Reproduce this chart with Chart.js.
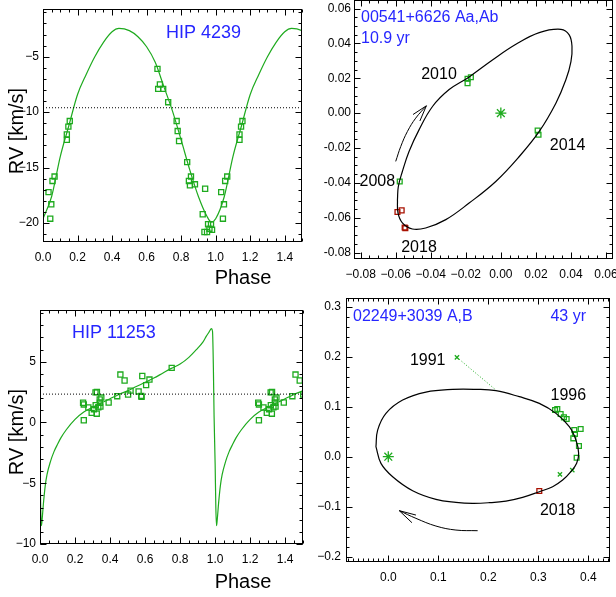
<!DOCTYPE html>
<html>
<head>
<meta charset="utf-8">
<script src="https://cdn.jsdelivr.net/npm/chart.js@4.4.1/dist/chart.umd.min.js"></script>
<style>
  html, body { margin: 0; padding: 0; background: #fff; overflow: hidden; width: 616px; height: 597px; }
  canvas { position: absolute; }
</style>
</head>
<body>
<canvas id="rv4239" width="308" height="300" style="left:0;top:0"></canvas>
<canvas id="orb00541" width="320" height="308" style="left:310px;top:-8px"></canvas>
<canvas id="rv11253" width="308" height="297" style="left:0;top:300px"></canvas>
<canvas id="orb02249" width="320" height="307" style="left:310px;top:290px"></canvas>
<script>
// ---- HIP 4239 radial velocity
const hip4239CurvePhase = [0, 0.05, 0.10, 0.15, 0.20, 0.25, 0.30, 0.35, 0.40, 0.44, 0.50, 0.55, 0.60, 0.65, 0.70, 0.75, 0.80, 0.85, 0.90, 0.95, 0.975, 1.0]
const hip4239CurveRV = [-19.6, -17.6, -14.0, -11.2, -8.4, -6.6, -5.0, -3.7, -2.75, -2.45, -2.65, -3.2, -4.1, -5.5, -7.7, -9.9, -12.5, -15.2, -17.6, -19.4, -19.9, -19.6]
const hip4239Phase = [0.032, 0.042, 0.048, 0.055, 0.067, 0.138, 0.138, 0.147, 0.155, 0.663, 0.667, 0.677, 0.696, 0.725, 0.774, 0.780, 0.788, 0.835, 0.845, 0.851, 0.857, 0.880, 0.939, 0.925, 0.935, 0.950, 0.956, 0.964, 0.973, 0.979]
const hip4239RV = [-17.2, -19.6, -18.3, -16.2, -15.8, -12.5, -12.0, -11.3, -10.8, -6.1, -7.9, -7.5, -7.9, -9.1, -10.8, -11.7, -12.6, -14.5, -16.2, -16.6, -15.8, -16.5, -16.9, -19.2, -20.8, -20.8, -20.1, -20.5, -20.1, -20.6]
const hip4239Gamma = -9.6
const hip4239XTicks = [0, 0.2, 0.4, 0.6, 0.8, 1.0, 1.2, 1.4]
const hip4239YTicks = [-20, -15, -10, -5]

// ---- HIP 11253 radial velocity
const hip11253CurvePhase = [0, 0.004, 0.008, 0.012, 0.02, 0.03, 0.04, 0.06, 0.08, 0.10, 0.12, 0.15, 0.20, 0.25, 0.30, 0.35, 0.40, 0.45, 0.50, 0.55, 0.60, 0.65, 0.70, 0.75, 0.80, 0.85, 0.90, 0.93, 0.95, 0.966, 0.979, 0.985, 0.99, 0.994, 1.0]
const hip11253CurveRV = [-3.4, -7.0, -8.5, -8.0, -6.6, -5.2, -4.3, -3.2, -2.4, -1.8, -1.25, -0.6, 0.25, 0.85, 1.25, 1.6, 1.95, 2.3, 2.6, 2.95, 3.3, 3.65, 4.05, 4.45, 4.8, 5.35, 6.1, 6.6, 7.1, 7.45, 7.72, 7.5, 4.5, 0.5, -3.4]
const hip11253Phase = [0.246, 0.25, 0.25, 0.276, 0.295, 0.308, 0.317, 0.325, 0.324, 0.318, 0.333, 0.341, 0.342, 0.345, 0.35, 0.392, 0.441, 0.459, 0.483, 0.503, 0.517, 0.563, 0.578, 0.58, 0.584, 0.606, 0.625, 0.752]
const hip11253RV = [1.62, 1.48, 0.18, 1.23, 0.79, 1.09, 2.47, 2.5, 0.72, 1.42, 1.25, 1.9, 1.62, 1.31, 2.05, 1.64, 2.16, 3.94, 3.45, 2.3, 2.62, 2.55, 2.18, 2.1, 3.82, 3.07, 3.53, 4.49]
const hip11253Gamma = 2.33
const hip11253YTicks = [-10, -5, 0, 5]

// ---- 00541+6626 Aa,Ab orbit (arcsec)
const orb00541X = [-0.059, -0.0585, -0.0562, -0.0524, -0.0467, -0.039, -0.0295, -0.0185, -0.0048, 0.0086, 0.0219, 0.0343, 0.039, 0.0406, 0.040, 0.0371, 0.0314, 0.0219, 0.0105, -0.0029, -0.0181, -0.0314, -0.0429, -0.0505, -0.0562, -0.0587, -0.059]
const orb00541Y = [-0.0497, -0.0421, -0.0335, -0.022, -0.0096, 0.0038, 0.0135, 0.0205, 0.0305, 0.0395, 0.0462, 0.0481, 0.0449, 0.0382, 0.0296, 0.0191, 0.0057, -0.0105, -0.0249, -0.0392, -0.0516, -0.0611, -0.0659, -0.0665, -0.063, -0.0573, -0.0497]
const obs00541X = [-0.019, -0.019, -0.0171, 0.021, 0.0215, -0.0577]
const obs00541Y = [0.0197, 0.0172, 0.0206, -0.010, -0.0124, -0.0392]
const new00541X = [-0.059, -0.0566, -0.0549, -0.0545]
const new00541Y = [-0.0567, -0.0558, -0.0656, -0.066]
const arrow00541X = [-0.060, -0.0571, -0.0533, -0.0486, -0.0425]
const arrow00541Y = [-0.0277, -0.0191, -0.0105, -0.0029, 0.0042]
const head00541X = [-0.0501, -0.0425, -0.0462]
const head00541Y = [-0.0008, 0.0042, -0.0045]
const orb00541XTicks = [-0.08, -0.06, -0.04, -0.02, 0, 0.02, 0.04, 0.06]
const orb00541YTicks = [-0.08, -0.06, -0.04, -0.02, 0, 0.02, 0.04, 0.06]

// ---- 02249+3039 A,B orbit (arcsec)
const orb02249X = [-0.0247, -0.0213, -0.0047, 0.0287, 0.0753, 0.1287, 0.1753, 0.2153, 0.262, 0.302, 0.3353, 0.362, 0.3753, 0.3807, 0.3767, 0.3653, 0.3487, 0.3287, 0.302, 0.2687, 0.2353, 0.202, 0.1687, 0.1353, 0.0953, 0.0487, 0.0087, -0.0147, -0.0247]
const orb02249Y = [0.02, 0.0533, 0.0867, 0.1133, 0.1293, 0.1347, 0.1347, 0.132, 0.12, 0.1067, 0.0867, 0.06, 0.0333, 0.0067, -0.0133, -0.03, -0.0467, -0.06, -0.07, -0.0813, -0.0887, -0.092, -0.0933, -0.0913, -0.0853, -0.068, -0.04, -0.0133, 0.02]
const obs02249X = [0.3335, 0.338, 0.3447, 0.3513, 0.3567, 0.372, 0.3733, 0.3847, 0.37, 0.3813, 0.3767]
const obs02249Y = [0.0933, 0.0953, 0.0853, 0.0787, 0.0753, 0.0533, 0.0453, 0.0553, 0.0367, 0.0213, -0.002]
const old02249X = [0.3433, 0.368, 0.1373]
const old02249Y = [-0.0353, -0.0267, 0.1987]
const new02249X = [0.302]
const new02249Y = [-0.0687]
const resid02249X = [0.1373, 0.2153]
const resid02249Y = [0.1987, 0.1333]
const arrow02249X = [0.1787, 0.1353, 0.0953, 0.0553, 0.022]
const arrow02249Y = [-0.148, -0.1467, -0.1387, -0.1233, -0.108]
const head02249X = [0.0553, 0.022, 0.0473]
const head02249Y = [-0.1167, -0.108, -0.132]
const orb02249XTicks = [0, 0.1, 0.2, 0.3, 0.4]
const orb02249YTicks = [-0.2, -0.1, 0, 0.1, 0.2, 0.3]

const GREEN = '#1eaa1e'
const BLUE = '#2626ff'
const RED = '#a81000'
const FONT = '"Liberation Sans", Arial, Helvetica, sans-serif'
const MINUS = '\u2212'

const pts = (xs, ys) => xs.map((x, i) => ({ x, y: ys[i] }))
const twoCycles = (ph, v) => pts(ph.concat(ph.slice(1).map(p => p + 1)), v.concat(v.slice(1)))

function line(data, color, extra = {}) {
  return { data, showLine: true, borderColor: color, borderWidth: 1.2, pointRadius: 0, fill: false, ...extra }
}

function marks(data, color, style, r) {
  return {
    data, showLine: false, pointStyle: style, pointRadius: r,
    borderColor: color, pointBorderColor: color, pointBackgroundColor: 'rgba(0,0,0,0)',
    borderWidth: 1.3, pointBorderWidth: 1.3,
  }
}

function axis(min, max, ticks, fmt, size, pad) {
  return {
    type: 'linear', min, max,
    afterBuildTicks: s => { s.ticks = ticks.map(v => ({ value: v })) },
    afterFit: s => {
      if (s.isHorizontal()) s.height = size
      else s.width = size
      s.paddingLeft = s.paddingRight = s.paddingTop = s.paddingBottom = 0
    },
    grid: { display: false, drawTicks: false },
    border: { display: false },
    ticks: { autoSkip: false, maxRotation: 0, minRotation: 0, padding: pad, color: '#000', font: { family: FONT, size: 12 }, callback: v => fmt(v) },
  }
}

// IDL style box: frame plus inward major/minor ticks on all four sides, and free text
function decor(xMinor, yMinor, notes) {
  return {
    id: 'decor',
    afterDraw(chart) {
      const { ctx, chartArea: a, scales: { x, y } } = chart
      const L = Math.round(a.left) + 0.5, R = Math.round(a.right) - 0.5
      const T = Math.round(a.top) + 0.5, B = Math.round(a.bottom) - 0.5
      ctx.save()
      ctx.strokeStyle = '#000'
      ctx.lineWidth = 1
      ctx.beginPath()
      const tickX = (v, len) => {
        const p = Math.round(x.getPixelForValue(v)) + 0.5
        ctx.moveTo(p, B); ctx.lineTo(p, B - len)
        ctx.moveTo(p, T); ctx.lineTo(p, T + len)
      }
      const tickY = (v, len) => {
        const p = Math.round(y.getPixelForValue(v)) + 0.5
        ctx.moveTo(L, p); ctx.lineTo(L + len, p)
        ctx.moveTo(R, p); ctx.lineTo(R - len, p)
      }
      for (let i = Math.ceil(x.min / xMinor - 1e-6); i * xMinor <= x.max + 1e-9; i++) tickX(i * xMinor, 3)
      for (let i = Math.ceil(y.min / yMinor - 1e-6); i * yMinor <= y.max + 1e-9; i++) tickY(i * yMinor, 3)
      x.ticks.forEach(t => tickX(t.value, 6))
      y.ticks.forEach(t => tickY(t.value, 6))
      ctx.stroke()
      ctx.strokeRect(L, T, R - L, B - T)

      for (const n of notes) {
        const px = n.px ? n.x : x.getPixelForValue(n.x)
        const py = n.px ? n.y : y.getPixelForValue(n.y)
        ctx.save()
        ctx.translate(px, py)
        if (n.rot) ctx.rotate(n.rot)
        ctx.fillStyle = n.c || '#000'
        ctx.font = `${n.s || 16}px ${FONT}`
        ctx.textAlign = n.align || 'center'
        ctx.textBaseline = 'middle'
        ctx.fillText(n.t, 0, 0)
        ctx.restore()
      }
      ctx.restore()
    },
  }
}

function base(scales, padding) {
  return {
    responsive: false, animation: false, devicePixelRatio: 1, events: [],
    layout: { padding },
    plugins: { legend: { display: false }, tooltip: { enabled: false } },
    scales,
  }
}

const fmt1 = v => v.toFixed(1).replace('-', MINUS)
const fmtInt = v => String(v).replace('-', MINUS)

// HIP 4239
new Chart(document.getElementById('rv4239'), {
  type: 'scatter',
  data: {
    datasets: [
      line([{ x: 0, y: hip4239Gamma }, { x: 1.5, y: hip4239Gamma }], '#000', { borderWidth: 1, borderDash: [1, 2] }),
      line(twoCycles(hip4239CurvePhase, hip4239CurveRV), GREEN, { cubicInterpolationMode: 'monotone' }),
      marks(pts(hip4239Phase, hip4239RV), GREEN, 'rect', 3.6),
      marks(pts(hip4239Phase.map(p => p + 1), hip4239RV), GREEN, 'rect', 3.6),
    ],
  },
  options: base({
    x: axis(0, 1.5, hip4239XTicks, fmt1, 22, 8),
    y: axis(-21.7, -0.7, hip4239YTicks, fmtInt, 43, 4),
  }, { left: 0, top: 9, right: 6, bottom: 36 }),
  plugins: [decor(0.05, 1, [
    { t: 'HIP 4239', x: 166, y: 33, px: true, c: BLUE, s: 18, align: 'left' },
    { t: 'Phase', x: 243, y: 278, px: true, s: 20 },
    { t: 'RV [km/s]', x: 17, y: 131, px: true, s: 20, rot: -Math.PI / 2 },
  ])],
})

// 00541+6626 Aa,Ab
new Chart(document.getElementById('orb00541'), {
  type: 'scatter',
  data: {
    datasets: [
      line(pts(orb00541X, orb00541Y), '#000', { tension: 0.4 }),
      line(pts(arrow00541X, arrow00541Y), '#000', { tension: 0.4, borderWidth: 1 }),
      line(pts(head00541X, head00541Y), '#000', { borderWidth: 1 }),
      marks([{ x: 0, y: 0 }], GREEN, 'star', 5.5),
      marks(pts(obs00541X, obs00541Y), GREEN, 'rect', 3.4),
      marks(pts(new00541X, new00541Y), RED, 'rect', 3.4),
    ],
  },
  options: base({
    x: axis(-0.0838, 0.064, orb00541XTicks, v => v.toFixed(2).replace('-', MINUS), 22, 8),
    y: axis(-0.0837, 0.0649, orb00541YTicks, v => v.toFixed(2), 44, 3),
  }, { left: 0, top: 8, right: 17, bottom: 19 }),
  plugins: [decor(0.005, 0.005, [
    { t: '00541+6626 Aa,Ab', x: 51, y: 26, px: true, c: BLUE, align: 'left' },
    { t: '10.9 yr', x: 51, y: 47, px: true, c: BLUE, align: 'left' },
    { t: '2010', x: -0.0353, y: 0.022 },
    { t: '2014', x: 0.0381, y: -0.0186 },
    { t: '2008', x: -0.0705, y: -0.0395 },
    { t: '2018', x: -0.0467, y: -0.0774 },
  ])],
})

// HIP 11253
new Chart(document.getElementById('rv11253'), {
  type: 'scatter',
  data: {
    datasets: [
      line([{ x: 0, y: hip11253Gamma }, { x: 1.5, y: hip11253Gamma }], '#000', { borderWidth: 1, borderDash: [1, 2] }),
      line(twoCycles(hip11253CurvePhase, hip11253CurveRV), GREEN, { cubicInterpolationMode: 'monotone' }),
      marks(pts(hip11253Phase, hip11253RV), GREEN, 'rect', 3.6),
      marks(pts(hip11253Phase.map(p => p + 1), hip11253RV), GREEN, 'rect', 3.6),
    ],
  },
  options: base({
    x: axis(0, 1.5, hip4239XTicks, fmt1, 22, 8),
    y: axis(-10, 9.25, hip11253YTicks, fmtInt, 40, 4),
  }, { left: 0, top: 10, right: 4, bottom: 31 }),
  plugins: [decor(0.05, 1, [
    { t: 'HIP 11253', x: 72, y: 33, px: true, c: BLUE, s: 18, align: 'left' },
    { t: 'Phase', x: 243, y: 282, px: true, s: 20 },
    { t: 'RV [km/s]', x: 17, y: 132, px: true, s: 20, rot: -Math.PI / 2 },
  ])],
})

// 02249+3039 A,B
new Chart(document.getElementById('orb02249'), {
  type: 'scatter',
  data: {
    datasets: [
      line(pts(orb02249X, orb02249Y), '#000', { tension: 0.4 }),
      line(pts(resid02249X, resid02249Y), GREEN, { borderWidth: 1, borderDash: [1, 2] }),
      line(pts(arrow02249X, arrow02249Y), '#000', { tension: 0.4, borderWidth: 1 }),
      line(pts(head02249X, head02249Y), '#000', { borderWidth: 1 }),
      marks([{ x: 0, y: 0 }], GREEN, 'star', 5.5),
      marks(pts(obs02249X, obs02249Y), GREEN, 'rect', 3.4),
      marks(pts(old02249X, old02249Y), GREEN, 'crossRot', 3),
      marks(pts(new02249X, new02249Y), RED, 'rect', 3.4),
    ],
  },
  options: base({
    x: axis(-0.0846, 0.4434, orb02249XTicks, fmt1, 22, 8),
    y: axis(-0.2106, 0.3174, orb02249YTicks, fmt1, 36, 5),
  }, { left: 0, top: 8, right: 20, bottom: 13 }),
  plugins: [decor(0.01, 0.02, [
    { t: '02249+3039 A,B', x: 43, y: 27, px: true, c: BLUE, align: 'left' },
    { t: '43 yr', x: 276, y: 27, px: true, c: BLUE, align: 'right' },
    { t: '1991', x: 0.0788, y: 0.192 },
    { t: '1996', x: 0.36, y: 0.1214 },
    { t: '2018', x: 0.3388, y: -0.108 },
  ])],
})
</script>
</body>
</html>
